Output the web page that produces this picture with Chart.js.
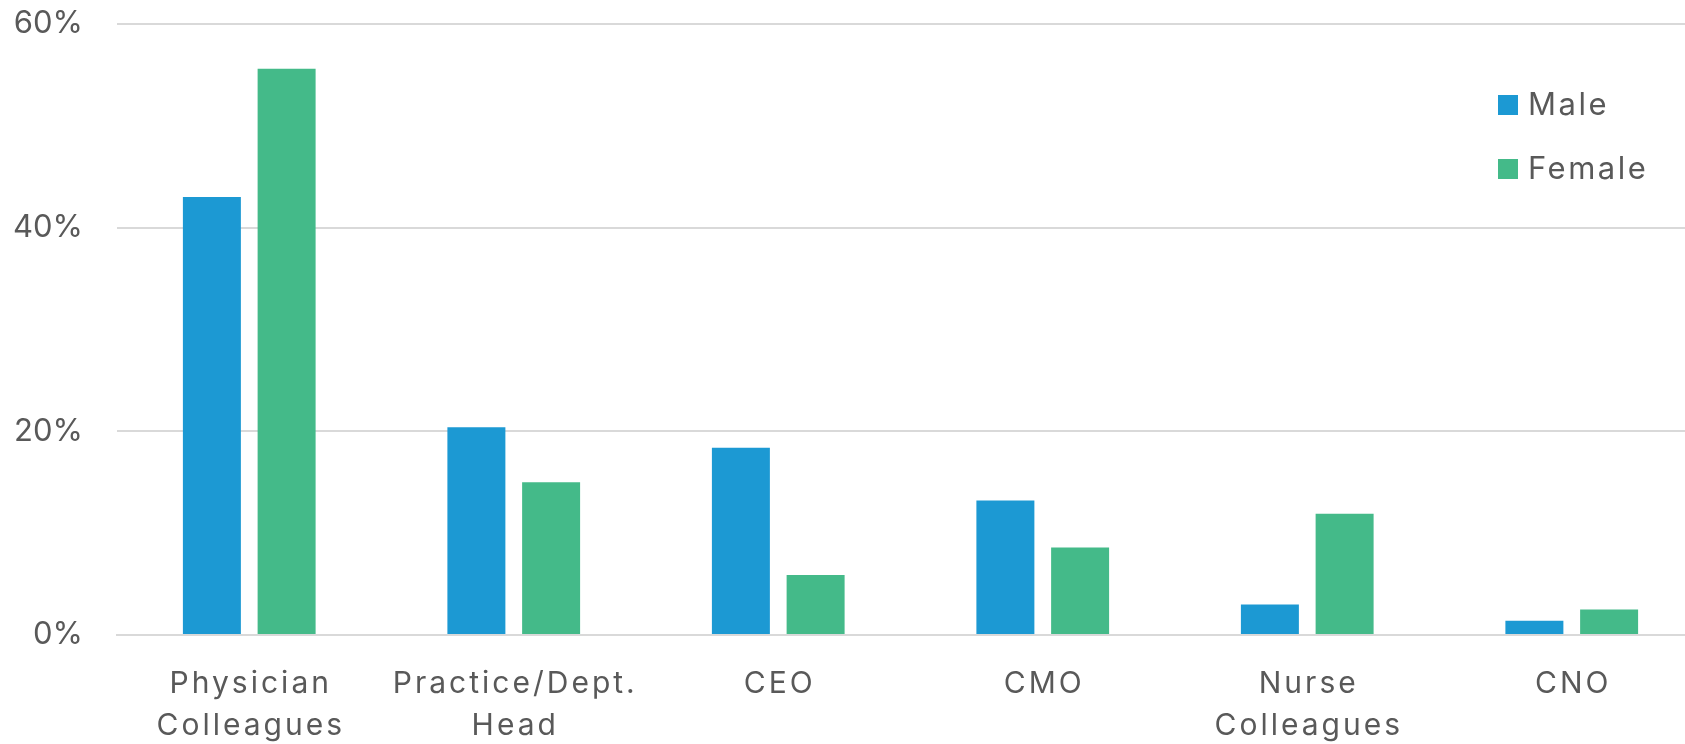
<!DOCTYPE html>
<html>
<head>
<meta charset="utf-8">
<script src="https://cdn.jsdelivr.net/npm/chart.js@4"></script>
<style>
  body { margin: 0; background: #fff; }
  #wrap { width: 1685px; height: 744px; overflow: hidden; }
</style>
</head>
<body>
<!-- the plot runs a little past the right edge of the picture, so the canvas is wider and cropped -->
<div id="wrap"><canvas id="chart" width="1704" height="744"></canvas></div>
<script>
const categories = [
  ['Physician', 'Colleagues'],
  ['Practice/Dept.', 'Head'],
  'CEO',
  'CMO',
  ['Nurse', 'Colleagues'],
  'CNO'
];
const maleValues = [43.0, 20.4, 18.4, 13.2, 3.0, 1.4];
const femaleValues = [55.6, 15.0, 5.9, 8.6, 11.9, 2.5];
const seriesNames = ['Male', 'Female'];
const yTicks = [0, 20, 40, 60];

const BLUE = '#1c99d3';
const GREEN = '#44ba89';
const TEXT = '#595959';

// legend drawn inside the plot, top right
const insideLegend = {
  id: 'insideLegend',
  afterDraw(chart) {
    const ctx = chart.ctx;
    const area = chart.chartArea;
    ctx.save();
    ctx.font = '31px Inter';
    ctx.letterSpacing = '2.5px';
    ctx.textBaseline = 'middle';
    chart.data.datasets.forEach((ds, i) => {
      const x = 1498;
      const y = area.top + 71 + i * 64;
      ctx.fillStyle = ds.backgroundColor;
      ctx.fillRect(x, y, 20, 20);
      ctx.fillStyle = TEXT;
      ctx.fillText(ds.label, x + 30, y + 11);
    });
    ctx.restore();
  }
};

// x labels in the original are spaced out a little
const spacedXLabels = {
  id: 'spacedXLabels',
  afterLayout(chart) {
    const scale = chart.scales.x;
    if (scale._spaced) return;
    const orig = scale.drawLabels.bind(scale);
    scale.drawLabels = (area) => {
      chart.ctx.save();
      chart.ctx.letterSpacing = '3px';
      chart.ctx.translate(1.5, 0);
      orig(area);
      chart.ctx.restore();
    };
    scale._spaced = true;
  }
};

new Chart(document.getElementById('chart'), {
  type: 'bar',
  data: {
    labels: categories,
    datasets: [
      { label: seriesNames[0], data: maleValues, backgroundColor: BLUE },
      { label: seriesNames[1], data: femaleValues, backgroundColor: GREEN }
    ]
  },
  options: {
    responsive: false,
    animation: false,
    layout: { padding: { top: 24, right: 0, left: 0, bottom: 0 } },
    categoryPercentage: 0.565,
    barPercentage: 0.776,
    plugins: {
      legend: { display: false },
      tooltip: { enabled: false }
    },
    scales: {
      x: {
        grid: { display: false },
        border: { color: '#d9d9d9', width: 2 },
        ticks: {
          color: TEXT,
          padding: 20,
          maxRotation: 0,
          autoSkip: false,
          font: { family: 'Inter', size: 30, lineHeight: 1.4 }
        },
        afterFit(scale) { scale.height = 109; }
      },
      y: {
        min: 0,
        max: 60,
        afterBuildTicks(scale) { scale.ticks = yTicks.map(v => ({ value: v })); },
        grid: { color: '#d9d9d9', lineWidth: 2, drawTicks: false },
        border: { display: false },
        ticks: {
          color: TEXT,
          padding: 34,
          font: { family: 'Inter', size: 31 },
          callback: v => v + '%'
        },
        afterFit(scale) {
          scale.width = 117;
          scale.paddingTop = 0;
          scale.paddingBottom = 0;
        }
      }
    }
  },
  plugins: [insideLegend, spacedXLabels]
});
</script>
</body>
</html>
